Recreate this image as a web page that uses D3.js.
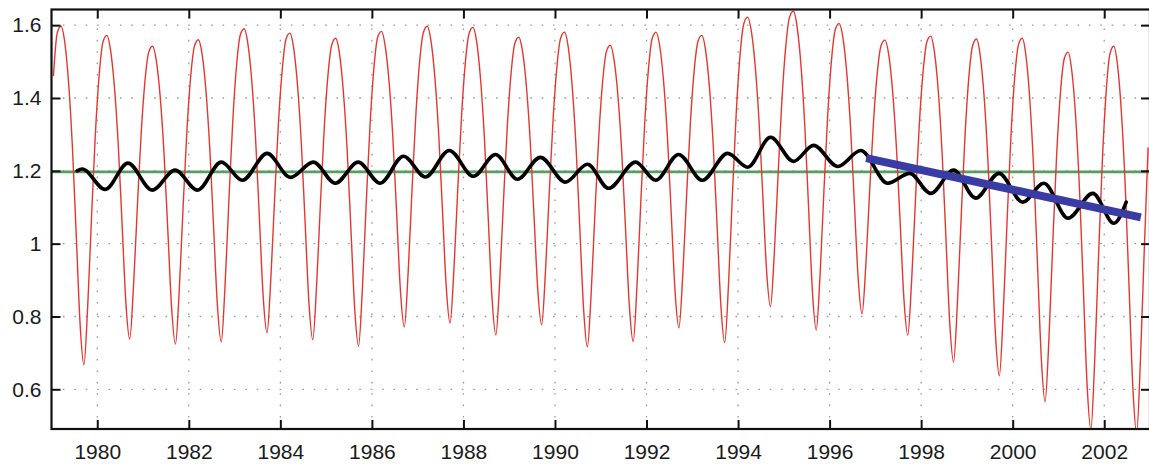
<!DOCTYPE html>
<html><head><meta charset="utf-8">
<script src="https://cdn.jsdelivr.net/npm/d3@7/dist/d3.min.js"></script>
<style>html,body{margin:0;padding:0;background:#fff;} svg{display:block;}</style>
</head><body>
<svg id="chart" width="1149" height="464"></svg>
<script>
// ---------------- data ----------------
const years = [1979,1980,1981,1982,1983,1984,1985,1986,1987,1988,1989,1990,
               1991,1992,1993,1994,1995,1996,1997,1998,1999,2000,2001,2002];
// monthly values (Jan..Dec) for each year
const monthlyValues = [
  [1.460,1.578,1.597,1.551,1.439,1.262,1.020,0.779,0.667,0.830,1.074,1.301],
  [1.463,1.554,1.572,1.530,1.430,1.272,1.055,0.838,0.738,0.883,1.100,1.301],
  [1.446,1.526,1.542,1.501,1.403,1.248,1.035,0.822,0.724,0.874,1.100,1.309],
  [1.460,1.543,1.560,1.519,1.419,1.261,1.045,0.830,0.730,0.885,1.117,1.332],
  [1.487,1.573,1.590,1.548,1.448,1.289,1.072,0.855,0.755,0.903,1.125,1.331],
  [1.479,1.562,1.578,1.536,1.435,1.275,1.056,0.837,0.736,0.885,1.109,1.316],
  [1.465,1.547,1.564,1.522,1.420,1.260,1.040,0.820,0.719,0.875,1.108,1.324],
  [1.479,1.566,1.583,1.542,1.445,1.291,1.080,0.868,0.771,0.920,1.143,1.349],
  [1.498,1.580,1.597,1.556,1.458,1.304,1.092,0.880,0.782,0.928,1.147,1.350],
  [1.497,1.578,1.594,1.552,1.450,1.290,1.070,0.850,0.749,0.896,1.117,1.322],
  [1.469,1.551,1.567,1.528,1.433,1.283,1.077,0.872,0.777,0.922,1.139,1.340],
  [1.485,1.565,1.581,1.538,1.434,1.270,1.045,0.821,0.717,0.866,1.090,1.297],
  [1.446,1.528,1.545,1.504,1.407,1.252,1.040,0.829,0.731,0.884,1.114,1.326],
  [1.479,1.564,1.581,1.540,1.443,1.289,1.078,0.866,0.769,0.914,1.130,1.331],
  [1.476,1.556,1.572,1.530,1.429,1.268,1.049,0.829,0.728,0.889,1.130,1.354],
  [1.515,1.604,1.622,1.582,1.487,1.336,1.129,0.922,0.827,0.973,1.192,1.395],
  [1.541,1.622,1.638,1.594,1.489,1.323,1.096,0.868,0.763,0.915,1.142,1.352],
  [1.504,1.588,1.605,1.565,1.469,1.318,1.110,0.903,0.807,0.942,1.145,1.333],
  [1.469,1.544,1.559,1.519,1.421,1.267,1.057,0.846,0.749,0.897,1.118,1.324],
  [1.471,1.554,1.570,1.525,1.418,1.248,1.015,0.782,0.675,0.835,1.074,1.296],
  [1.456,1.544,1.562,1.516,1.405,1.229,0.989,0.748,0.637,0.804,1.054,1.286],
  [1.453,1.545,1.564,1.514,1.394,1.205,0.945,0.686,0.566,0.739,0.998,1.238],
  [1.411,1.507,1.526,1.474,1.350,1.153,0.884,0.614,0.490,0.679,0.963,1.226],
  [1.416,1.521,1.542,1.489,1.361,1.160,0.884,0.607,0.480,0.682,0.984,1.264]
];
// smoothed (black) curve turning points
const smoothYears = [1979.56,1979.67,1980.17,1980.67,1981.20,1981.70,1982.19,1982.71,1983.17,1983.71,
  1984.22,1984.72,1985.20,1985.70,1986.18,1986.69,1987.17,1987.69,1988.22,1988.70,
  1989.18,1989.68,1990.23,1990.71,1991.17,1991.76,1992.20,1992.70,1993.22,1993.77,
  1994.21,1994.71,1995.21,1995.65,1996.18,1996.68,1997.27,1997.75,1998.21,1998.71,
  1999.19,1999.70,2000.22,2000.68,2001.21,2001.75,2002.21,2002.48];
const smoothValues = [1.200,1.205,1.149,1.221,1.147,1.202,1.147,1.224,1.174,1.248,
  1.182,1.224,1.166,1.224,1.166,1.240,1.183,1.256,1.185,1.245,
  1.177,1.237,1.169,1.218,1.152,1.224,1.174,1.245,1.174,1.248,
  1.210,1.292,1.226,1.270,1.212,1.256,1.166,1.193,1.138,1.202,
  1.125,1.193,1.114,1.166,1.070,1.138,1.056,1.114];
// trend (blue) line
const trendYears = [1996.80, 2002.80];
const trendValues = [1.235, 1.072];
// reference (green) level
const referenceLevel = [1.197];
// ticks
const xTicks = [1980,1982,1984,1986,1988,1990,1992,1994,1996,1998,2000,2002];
const yTicks = [0.6,0.8,1.0,1.2,1.4,1.6];
const yTickLabels = ["0.6","0.8","1","1.2","1.4","1.6"];

// ---------------- layout ----------------
const L = 51.5, R = 1150, T = 9.5, B = 429;
const svg = d3.select("#chart");
const x = d3.scaleLinear().domain([1979, 2003]).range([L, R]);
const y = d3.scaleLinear().domain([0.491, 1.643]).range([B, T]);

svg.append("defs").append("clipPath").attr("id","clip")
  .append("rect").attr("x", L).attr("y", T).attr("width", R - L).attr("height", B - T);

// grid
const grid = svg.append("g").attr("stroke", "#9a9a9a").attr("stroke-width", 1.3)
  .attr("stroke-dasharray", "1.6,9.8");
grid.selectAll("line.v").data(xTicks).join("line").attr("class","v")
  .attr("x1", d => x(d)).attr("x2", d => x(d)).attr("y1", B).attr("y2", T);
grid.selectAll("line.h").data(yTicks).join("line").attr("class","h")
  .attr("y1", d => y(d)).attr("y2", d => y(d)).attr("x1", L).attr("x2", R);

const plot = svg.append("g").attr("clip-path", "url(#clip)");

// green reference line
plot.selectAll("line.ref").data(referenceLevel).join("line").attr("class","ref")
  .attr("x1", L).attr("x2", R).attr("y1", d => y(d)).attr("y2", d => y(d))
  .attr("stroke", "#55a060").attr("stroke-width", 2.6);

// red monthly series
const monthly = [];
years.forEach((yr, i) => monthlyValues[i].forEach((v, m) => monthly.push([yr + (m + 0.5) / 12, v])));
plot.append("path").datum(monthly)
  .attr("fill", "none").attr("stroke", "#e5362f").attr("stroke-width", 1.4)
  .attr("d", d3.line().x(d => x(d[0])).y(d => y(d[1])).curve(d3.curveMonotoneX));

// black smoothed series
const smooth = smoothYears.map((t, i) => [t, smoothValues[i]]);
plot.append("path").datum(smooth)
  .attr("fill", "none").attr("stroke", "#000").attr("stroke-width", 3.6)
  .attr("stroke-linejoin", "round").attr("stroke-linecap", "round")
  .attr("d", d3.line().x(d => x(d[0])).y(d => y(d[1])).curve(d3.curveMonotoneX));

// blue trend
const trend = trendYears.map((t, i) => [t, trendValues[i]]);
plot.append("path").datum(trend)
  .attr("fill", "none").attr("stroke", "#3a3ca6").attr("stroke-width", 8)
  .attr("d", d3.line().x(d => x(d[0])).y(d => y(d[1])));

// axes
const fontFam = "'Liberation Sans', Arial, sans-serif";
const axG = svg.append("g");
axG.append("g").attr("transform", `translate(0,${B})`)
  .call(d3.axisBottom(x).tickValues(xTicks).tickFormat(d3.format("d")).tickSize(-9).tickSizeOuter(0).tickPadding(15));
axG.append("g").attr("transform", `translate(${L},0)`)
  .call(d3.axisLeft(y).tickValues(yTicks).tickFormat((d, i) => yTickLabels[i]).tickSize(-9).tickSizeOuter(0).tickPadding(10));
axG.append("g").attr("transform", `translate(0,${T})`)
  .call(d3.axisTop(x).tickValues(xTicks).tickFormat("").tickSize(-9).tickSizeOuter(0));
axG.append("g").attr("transform", `translate(${R},0)`)
  .call(d3.axisRight(y).tickValues(yTicks).tickFormat("").tickSize(-9).tickSizeOuter(0));
axG.selectAll(".domain").remove();
axG.selectAll(".tick line").attr("stroke", "#111").attr("stroke-width", 2);
axG.selectAll(".tick text").attr("font-family", fontFam).attr("font-size", 21).attr("fill", "#1a1a1a");

// frame
svg.append("rect").attr("x", L).attr("y", T).attr("width", R - L).attr("height", B - T)
  .attr("fill", "none").attr("stroke", "#111").attr("stroke-width", 2.2);
</script>
</body></html>
